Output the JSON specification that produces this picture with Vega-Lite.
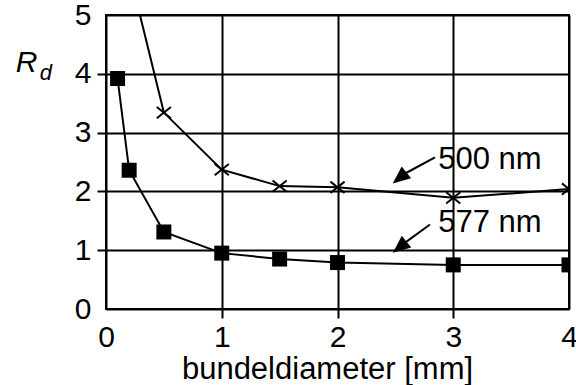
{
  "$schema": "https://vega.github.io/schema/vega-lite/v6.json",
  "width": 463,
  "height": 294,
  "autosize": "none",
  "padding": {"left": 106, "top": 15, "right": 7, "bottom": 76},
  "background": "white",
  "datasets": {
    "curves": [
      {"d": 0.1, "R": 3.92, "s": "577 nm"},
      {"d": 0.2, "R": 2.36, "s": "577 nm"},
      {"d": 0.5, "R": 1.31, "s": "577 nm"},
      {"d": 1.0, "R": 0.95, "s": "577 nm"},
      {"d": 1.5, "R": 0.85, "s": "577 nm"},
      {"d": 2.0, "R": 0.79, "s": "577 nm"},
      {"d": 3.0, "R": 0.75, "s": "577 nm"},
      {"d": 4.0, "R": 0.75, "s": "577 nm"},
      {"d": 0.2, "R": 5.75, "s": "500 nm"},
      {"d": 0.5, "R": 3.34, "s": "500 nm"},
      {"d": 1.0, "R": 2.37, "s": "500 nm"},
      {"d": 1.5, "R": 2.09, "s": "500 nm"},
      {"d": 2.0, "R": 2.07, "s": "500 nm"},
      {"d": 3.0, "R": 1.89, "s": "500 nm"},
      {"d": 4.0, "R": 2.04, "s": "500 nm"}
    ],
    "notes": [
      {"label": "500 nm", "tx": 2.87, "ty": 2.54, "x1": 2.842, "y1": 2.577, "x2": 2.592, "y2": 2.313, "ax": 2.551, "ay": 2.253},
      {"label": "577 nm", "tx": 2.87, "ty": 1.466, "x1": 2.799, "y1": 1.437, "x2": 2.587, "y2": 1.134, "ax": 2.552, "ay": 1.075}
    ],
    "sub": [{"x": -0.52, "y": 3.9, "t": "d"}]
  },
  "config": {
    "view": {"stroke": "black", "strokeWidth": 2},
    "font": "Liberation Sans",
    "axis": {
      "grid": true,
      "gridColor": "black",
      "gridWidth": 2,
      "gridOpacity": 1,
      "domain": false,
      "tickColor": "black",
      "tickWidth": 2,
      "tickSize": 9,
      "labelColor": "black",
      "labelFont": "Liberation Sans",
      "labelFontSize": 30,
      "titleColor": "black",
      "titleFont": "Liberation Sans",
      "titleFontWeight": "normal"
    }
  },
  "layer": [
    {
      "data": {"name": "curves"},
      "transform": [{"filter": "datum.s == '577 nm'"}],
      "mark": {"type": "line", "color": "black", "strokeWidth": 2, "clip": true},
      "encoding": {
        "x": {
          "field": "d", "type": "quantitative",
          "scale": {"domain": [0, 4], "nice": false, "zero": false},
          "axis": {
            "values": [0, 1, 2, 3, 4],
            "format": "d",
            "labelPadding": 4,
            "labelFlush": false,
            "tickOpacity": {"condition": {"test": "datum.value == 0 || datum.value == 4", "value": 0}, "value": 1},
            "title": "bundeldiameter [mm]",
            "titleFontSize": 31,
            "titleX": 221,
            "titleY": 69,
            "titleAlign": "center",
            "titleBaseline": "alphabetic"
          }
        },
        "y": {
          "field": "R", "type": "quantitative",
          "scale": {"domain": [0, 5], "nice": false, "zero": false},
          "axis": {
            "values": [0, 1, 2, 3, 4, 5],
            "format": "d",
            "labelPadding": 6,
            "labelFlush": false,
            "tickOpacity": {"condition": {"test": "datum.value == 0 || datum.value == 5", "value": 0}, "value": 1},
            "title": "R",
            "titleFontSize": 30,
            "titleFontStyle": "italic",
            "titleAngle": 0,
            "titleX": -80,
            "titleY": 56.5,
            "titleAlign": "center",
            "titleBaseline": "alphabetic"
          }
        }
      }
    },
    {
      "data": {"name": "curves"},
      "transform": [{"filter": "datum.s == '500 nm'"}],
      "mark": {"type": "line", "color": "black", "strokeWidth": 2, "clip": true},
      "encoding": {
        "x": {"field": "d", "type": "quantitative"},
        "y": {"field": "R", "type": "quantitative"}
      }
    },
    {
      "data": {"name": "curves"},
      "transform": [{"filter": "datum.s == '577 nm'"}],
      "mark": {"type": "point", "shape": "square", "filled": true, "color": "black", "opacity": 1, "size": 225, "clip": true},
      "encoding": {
        "x": {"field": "d", "type": "quantitative"},
        "y": {"field": "R", "type": "quantitative"}
      }
    },
    {
      "data": {"name": "curves"},
      "transform": [{"filter": "datum.s == '500 nm'"}],
      "mark": {"type": "point", "shape": "M-1,-0.8L1,0.8M-1,0.8L1,-0.8", "filled": false, "stroke": "black", "strokeWidth": 2, "opacity": 1, "size": 200, "clip": true},
      "encoding": {
        "x": {"field": "d", "type": "quantitative"},
        "y": {"field": "R", "type": "quantitative"}
      }
    },
    {
      "data": {"name": "notes"},
      "mark": {"type": "rule", "color": "black", "strokeWidth": 2},
      "encoding": {
        "x": {"field": "x1", "type": "quantitative"},
        "y": {"field": "y1", "type": "quantitative"},
        "x2": {"field": "x2"},
        "y2": {"field": "y2"}
      }
    },
    {
      "data": {"name": "notes"},
      "mark": {"type": "point", "shape": "M0,-1L0.68,0.6L-0.68,0.6Z", "filled": true, "color": "black", "opacity": 1, "size": 484, "angle": 231},
      "encoding": {
        "x": {"field": "ax", "type": "quantitative"},
        "y": {"field": "ay", "type": "quantitative"}
      }
    },
    {
      "data": {"name": "notes"},
      "mark": {"type": "text", "align": "left", "baseline": "middle", "font": "Liberation Sans", "fontSize": 31, "color": "black"},
      "encoding": {
        "x": {"field": "tx", "type": "quantitative"},
        "y": {"field": "ty", "type": "quantitative"},
        "text": {"field": "label"}
      }
    },
    {
      "data": {"name": "sub"},
      "mark": {"type": "text", "align": "center", "baseline": "alphabetic", "font": "Liberation Sans", "fontStyle": "italic", "fontSize": 22, "color": "black", "clip": false},
      "encoding": {
        "x": {"field": "x", "type": "quantitative"},
        "y": {"field": "y", "type": "quantitative"},
        "text": {"field": "t"}
      }
    }
  ]
}
